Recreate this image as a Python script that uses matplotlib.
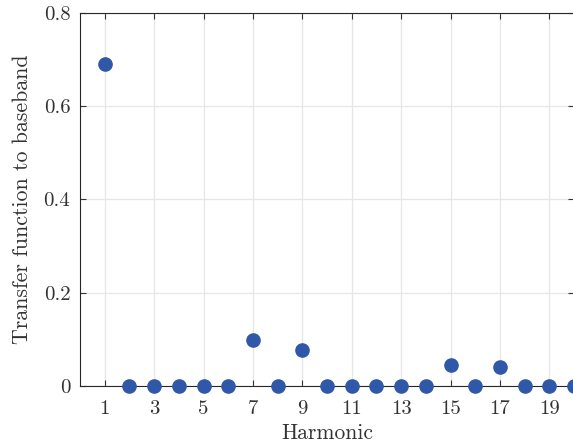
import matplotlib
matplotlib.use("Agg")
import matplotlib.pyplot as plt

harmonics = list(range(1, 21))
transfer = [0.69, 0, 0, 0, 0, 0, 0.099, 0, 0.077, 0, 0, 0, 0, 0, 0.045, 0, 0.040, 0, 0, 0]
xticks = [1, 3, 5, 7, 9, 11, 13, 15, 17, 19]
yticks = [0, 0.2, 0.4, 0.6, 0.8]

plt.rcParams['font.family'] = 'cmr10'
plt.rcParams['mathtext.fontset'] = 'cm'
plt.rcParams['axes.formatter.use_mathtext'] = True

fig = plt.figure(figsize=(5.73, 4.44), dpi=100)
ax = fig.add_axes([80/573, 58/444, 494/573, 373/444])
ax.plot(harmonics, transfer, 'o', color='#2f58a9', markersize=9.5, clip_on=False, zorder=3)
ax.set_xlim(0, 20)
ax.set_ylim(0, 0.8)
ax.set_xticks(xticks)
ax.set_yticks(yticks)
ax.set_xticklabels([str(t) for t in xticks])
ax.set_yticklabels(['0', '0.2', '0.4', '0.6', '0.8'])
ax.grid(True, color='#e6e6e6', linewidth=0.9)
ax.set_axisbelow(True)
for s in ax.spines.values():
    s.set_color('#262626')
    s.set_linewidth(0.8)
ax.tick_params(direction='in', top=True, right=True, length=4, width=0.8,
               colors='#333333', labelsize=15)
ax.tick_params(axis='x', pad=10)
ax.tick_params(axis='y', pad=7)
ax.set_xlabel('Harmonic', fontsize=15.5, color='#333333', labelpad=4)
ax.set_ylabel('Transfer function to baseband', fontsize=15.8, color='#333333', labelpad=8)
fig.savefig('out.png', dpi=100)
